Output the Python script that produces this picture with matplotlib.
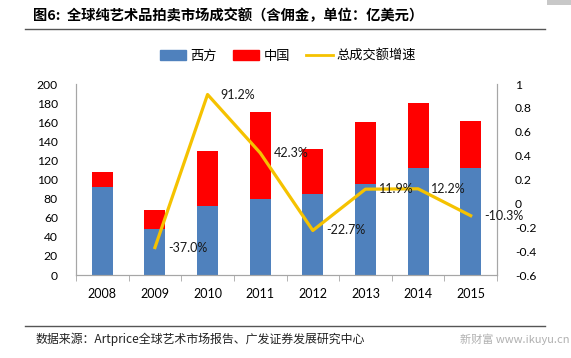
import matplotlib
matplotlib.use('Agg')
import matplotlib.pyplot as plt
from matplotlib.patches import Patch, Rectangle
from matplotlib.lines import Line2D

plt.rcParams['font.family'] = ['Lato', 'Noto Sans CJK SC', 'DejaVu Sans']

# data (亿美元)
years = ['2008', '2009', '2010', '2011', '2012', '2013', '2014', '2015']
west = [92, 48, 72, 80, 85, 95, 112, 112]
total = [108, 68, 130, 171, 132, 160, 180, 161]
china = [t - w for t, w in zip(total, west)]
growth_years = [1, 2, 3, 4, 5, 6, 7]
growth = [-0.370, 0.912, 0.423, -0.227, 0.119, 0.122, -0.103]
growth_labels = ['-37.0%', '91.2%', '42.3%', '-22.7%', '11.9%', '12.2%', '-10.3%']

BLUE = '#4F81BD'
RED = '#FF0000'
GOLD = '#F5C200'
GRAY = '#A6A6A6'
CJK = ['Noto Sans CJK SC', 'DejaVu Sans']

fig = plt.figure(figsize=(5.71, 3.58), dpi=100)
ax = fig.add_axes([76 / 571, 1 - 275 / 358, (497 - 76) / 571, (275 - 84) / 358])
x = list(range(len(years)))

ax.bar(x, west, width=0.4, color=BLUE, zorder=2)
ax.bar(x, china, width=0.4, bottom=west, color=RED, zorder=2)
ax.set_xlim(-0.5, 7.5)
ax.set_ylim(0, 200)
ax.set_yticks(range(0, 201, 20))
ax.set_xticks(x)
ax.set_xticklabels(years)
ax.set_xticks([i + 0.5 for i in range(-1, 8)], minor=True)
ax.tick_params(axis='x', which='major', length=0, pad=9, labelsize=9)
ax.tick_params(axis='x', which='minor', length=4, color=GRAY, direction='out')
ax.tick_params(axis='y', length=0, pad=13, labelsize=8.7)
ax.spines['top'].set_visible(False)
for s in ['left', 'bottom', 'right']:
    ax.spines[s].set_color(GRAY)

ax2 = ax.twinx()
ax2.plot(growth_years, growth, color=GOLD, lw=2.3, zorder=3)
ax2.set_ylim(-0.6, 1.0)
ax2.set_yticks([1, 0.8, 0.6, 0.4, 0.2, 0, -0.2, -0.4, -0.6])
ax2.set_yticklabels(['1', '0.8', '0.6', '0.4', '0.2', '0', '-0.2', '-0.4', '-0.6'])
ax2.tick_params(axis='y', length=0, pad=13, labelsize=8.7)
ax2.spines['top'].set_visible(False)
for s in ['left', 'bottom', 'right']:
    ax2.spines[s].set_color(GRAY)
for gx, gy, lab in zip(growth_years, growth, growth_labels):
    ax2.annotate(lab, (gx, gy), xytext=(9.5, 0), textcoords='offset points',
                 ha='left', va='center', fontsize=9, color='#1a1a1a')

# legend
handles = [Patch(color=BLUE), Patch(color=RED), Line2D([0], [0], color=GOLD, lw=2)]
fig.legend(handles, ['西方', '中国', '总成交额增速'], loc='center',
           bbox_to_anchor=(288 / 571, 1 - 56 / 358), ncol=3, frameon=False,
           handlelength=2.0, handletextpad=0.3, columnspacing=1.25,
           prop={'family': CJK, 'size': 9.5})

# title, rules, source
fig.text(33 / 571, 1 - 16 / 358, '图6:  全球纯艺术品拍卖市场成交额（含佣金，单位：亿美元）',
         family=CJK, fontsize=10.3, fontweight='bold', ha='left', va='center')
fig.add_artist(Line2D([25 / 571, 545 / 571], [1 - 29 / 358, 1 - 29 / 358],
                      color='#555555', lw=1.0))
fig.add_artist(Line2D([25 / 571, 545 / 571], [1 - 326 / 358, 1 - 326 / 358],
                      color='#555555', lw=1.0))
fig.text(35 / 571, 1 - 339 / 358, '数据来源：Artprice全球艺术市场报告、广发证券发展研究中心',
         family=CJK, fontsize=8.6, ha='left', va='center', color='#222222')
fig.text(570 / 571, 1 - 339 / 358, '新财富 www.ikuyu.cn', family=CJK,
         fontsize=8, ha='right', va='center', color='#B0B0B0')
fig.add_artist(Rectangle((547 / 571, 1 - 5 / 358), 24 / 571, 5 / 358,
                         transform=fig.transFigure, color='#C8C8C8', lw=0))

fig.savefig('out.png', dpi=100)
